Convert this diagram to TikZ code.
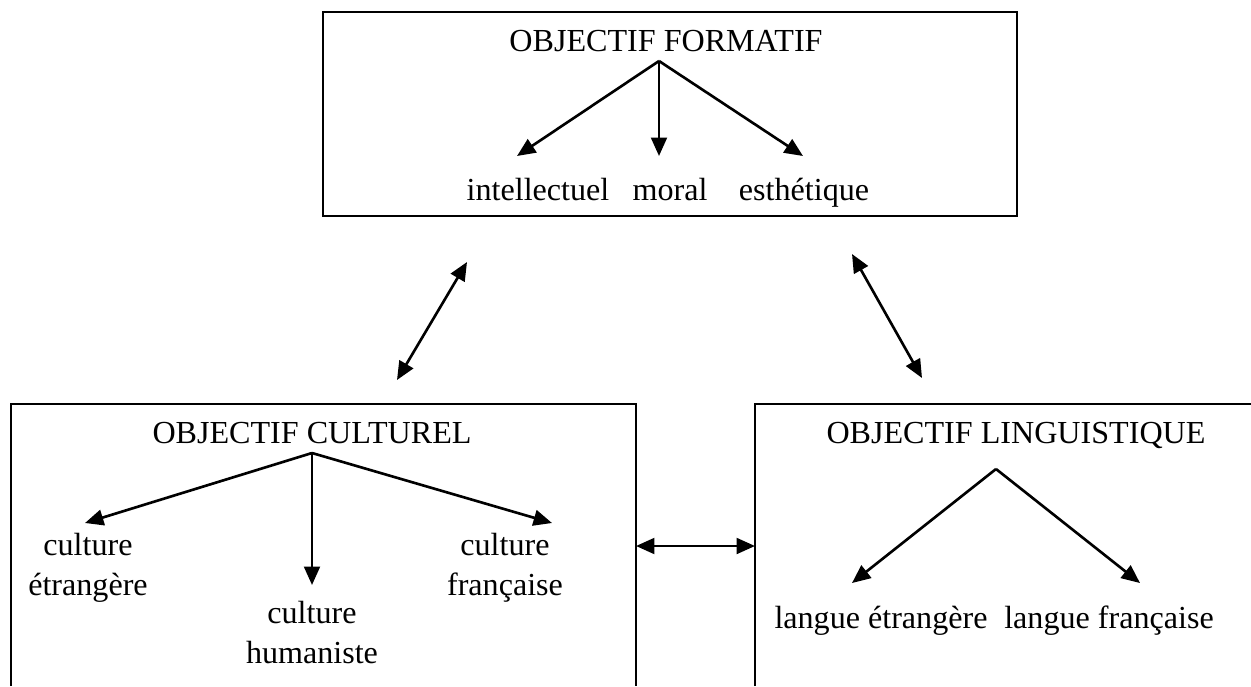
\documentclass[tikz,border=0pt]{standalone}
\usepackage{fontspec}
\setmainfont{Liberation Serif}
\usetikzlibrary{arrows.meta}

\begin{document}
\begin{tikzpicture}[x=0.38pt, y=-0.38pt,
        font=\fontsize{12.2}{15.2}\selectfont,
        lbl/.style={inner sep=0pt, anchor=base},
        twolines/.style={inner sep=0pt, align=center},
        frame/.style={line width=0.8pt},
        arr/.style={-{Triangle[length=7pt, width=6pt]}, line width=1pt},
        darr/.style={{Triangle[length=7pt, width=6pt]}-{Triangle[length=7pt, width=6pt]}, line width=1pt}]
    \useasboundingbox (0,0) rectangle (1251,686);

    % formatif
    \draw[frame] (323,12) rectangle (1017,216);
    \node[lbl] (form) at (666,51) {OBJECTIF FORMATIF};
    \coordinate (formtop) at (659,61);
    \coordinate (intel) at (517,156);
    \coordinate (moraltip) at (659,156);
    \coordinate (esth) at (803,156);
    \node[lbl] (intellectuel) at (538,200) {intellectuel};
    \node[lbl] (moral) at (670,200) {moral};
    \node[lbl] (esthetique) at (804,200) {esthétique};
    \draw[arr] (formtop) -- (intel);
    \draw[arr] (formtop) -- (moraltip);
    \draw[arr] (formtop) -- (esth);

    % liens avec le haut
    \coordinate (lienA) at (467,262);
    \coordinate (lienB) at (397,380);
    \coordinate (lienC) at (852,254);
    \coordinate (lienD) at (922,378);
    \draw[darr] (lienA) -- (lienB);
    \draw[darr] (lienC) -- (lienD);

    % culturel
    \draw[frame] (11,686) -- (11,404) -- (636,404) -- (636,686);
    \node[lbl] (cult) at (312,443) {OBJECTIF CULTUREL};
    \coordinate (culttop) at (312,453);
    \coordinate (etrtip) at (85,523);
    \coordinate (humtip) at (312,585);
    \coordinate (fratip) at (552,523);
    \node[twolines] (cultetr) at (88,568) {culture\\étrangère};
    \node[twolines] (cultfra) at (505,568) {culture\\française};
    \node[twolines] (culthum) at (312,633) {culture\\humaniste};
    \draw[arr] (culttop) -- (etrtip);
    \draw[arr] (culttop) -- (humtip);
    \draw[arr] (culttop) -- (fratip);

    % linguistique
    \draw[frame] (755,686) -- (755,404) -- (1251,404);
    \node[lbl] (ling) at (1016,443) {OBJECTIF LINGUISTIQUE};
    \coordinate (lingtop) at (996,469);
    \coordinate (letrtip) at (852,583);
    \coordinate (lfratip) at (1140,583);
    \node[lbl] (langetr) at (881,628) {langue étrangère};
    \node[lbl] (langfra) at (1109,628) {langue française};
    \draw[arr] (lingtop) -- (letrtip);
    \draw[arr] (lingtop) -- (lfratip);

    % entre les deux
    \coordinate (cultedge) at (636,546);
    \coordinate (lingedge) at (755,546);
    \draw[darr] (cultedge) -- (lingedge);
\end{tikzpicture}
\end{document}
